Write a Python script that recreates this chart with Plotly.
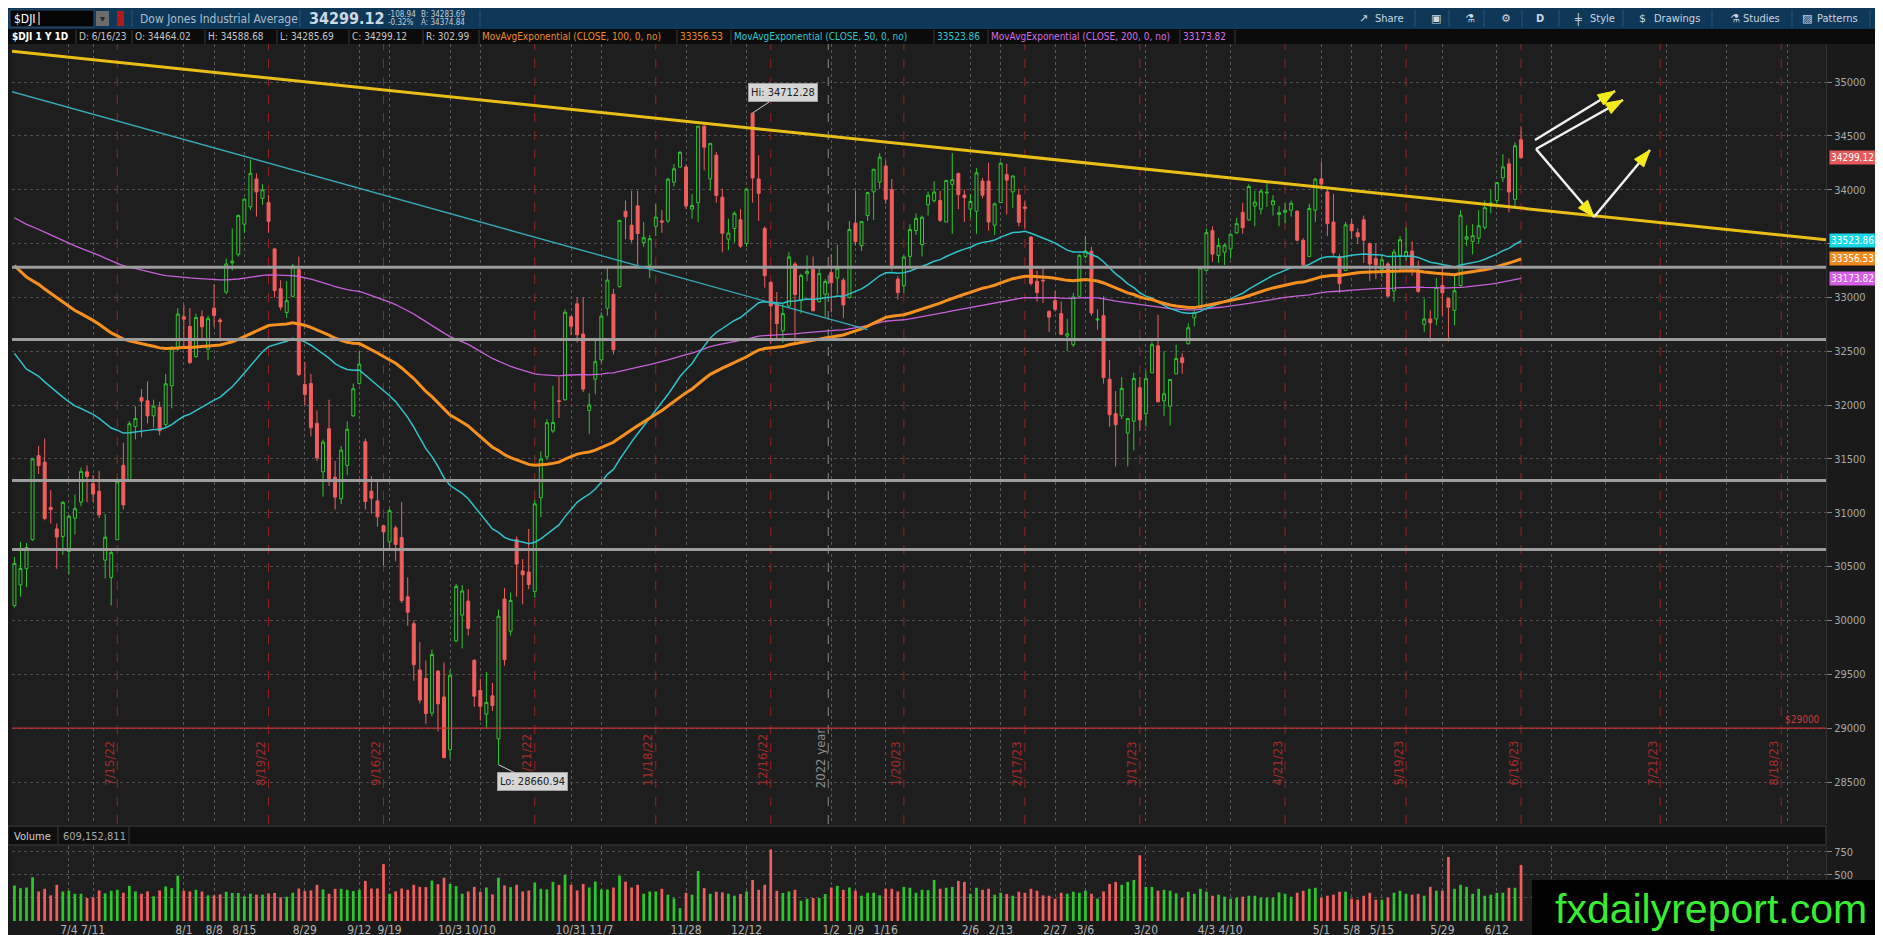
import math
import pandas as pd
import plotly.graph_objects as go

W, H = 1883, 935
NARROW = "Liberation Sans Narrow, DejaVu Sans Condensed, Roboto, sans-serif"

# ---------------- $DJI daily bars, 6/21/22 .. 6/16/23 ----------------
open_ = [
    30140, 30330, 30480, 30750, 31530, 31470, 31050, 30850,
    30780, 30640, 30950, 31100, 31380, 31270, 31200, 30560, 30400, 30750, 31440, 31310,
    31800, 32070, 32040, 31900, 31980, 31820, 32180, 32540,
    32820, 32730, 32450, 32820, 32520, 32900, 32790, 33050, 33320, 33400, 33680, 33840,
    34100, 33920, 33880, 33450, 33080, 32860, 33010, 33260, 32190, 32200, 31830,
    31380, 31780, 31330, 31130, 31440, 31900, 32200, 31660, 31200, 31110, 30880, 30730,
    30860, 30770, 30220, 29970, 29540, 29460, 29140, 29530, 29290,
    28800, 29810, 30050, 30180, 29630, 29350, 29130, 29300, 28900, 30200, 29900, 30750,
    30460, 30450, 30270, 31140, 31520, 31760, 32040, 32050, 32820,
    32940, 32660, 31950, 32240, 32420, 32900, 33030, 33100, 33800, 33670, 33850, 33510,
    33300, 33660, 33710, 33710, 34070, 34210, 34210, 33820, 33880,
    34590, 34100, 34320, 33930, 33540, 33640, 33720, 33500, 34710, 34100, 33640, 33140,
    32940, 32690, 32920, 33310, 32970, 33220, 33260, 32960, 33030,
    33230, 33180, 33160, 33000, 33690, 33480, 33760, 33980, 34070, 34220, 34000, 33170,
    33110, 33380, 33620, 33490, 33860, 33900, 33900, 33700,
    34050, 34150, 33950, 33820, 33800, 34080, 34080, 33670, 33880, 34140, 33980, 33950,
    33840, 33560, 33150, 33160, 32870, 32970, 32850,
    32640, 32560, 33010, 33380, 33430, 32790, 32830, 32240, 31920, 31900, 31740, 31850,
    32160, 31920, 32300, 32550, 32040, 31990, 32290, 32440, 32570, 32810, 32900,
    33250, 33620, 33390, 33420, 33450, 33600, 33790, 33720, 33850, 33820, 33970, 33860,
    33770, 33790, 33810, 33800, 33530, 33380, 33810,
    34100, 33980, 33700, 33380, 33250, 33680, 33600, 33720, 33500, 33360, 33260, 33310,
    33060, 33390, 33380, 33430, 33240, 32750, 32800, 32800, 33110, 32990,
    32880, 33110, 33540, 33520, 33550, 33650, 33850, 33900, 34110, 34240, 33910, 34464.02,
]
high = [
    30590, 30730, 30720, 31510, 31620, 31690, 31210, 30900,
    31110, 30980, 31170, 31420, 31440, 31350, 31390, 30990, 30650, 31320, 31650, 31850,
    31990, 32150, 32220, 32050, 32030, 32290, 32550, 32900,
    32930, 32900, 32850, 32880, 32830, 33120, 32810, 33360, 33640, 33770, 33920, 34280,
    34150, 34050, 33950, 33460, 33160, 33150, 33310, 33380, 32400, 32290, 31950,
    31680, 32050, 31480, 31620, 31850, 32200, 32500, 31690, 31340, 31300, 30890, 31040,
    30880, 31100, 30400, 30000, 29800, 29630, 29730, 29540, 29610,
    29540, 30340, 30330, 30290, 29640, 29460, 29520, 29420, 30100, 30300, 30260, 30780,
    30570, 30850, 31120, 31570, 31870, 32180, 32260, 32890, 32830,
    33000, 33000, 32110, 32610, 32860, 33270, 33080, 33720, 33900, 33990, 33990, 33700,
    33580, 33870, 33810, 34110, 34240, 34360, 34230, 33960, 34590,
    34600, 34430, 34350, 34010, 33730, 33800, 33820, 34020, 34712.28, 34320, 33660, 33150,
    33050, 32940, 33420, 33330, 33220, 33390, 33380, 33290, 33170,
    33400, 33490, 33180, 33710, 33990, 33710, 33980, 34190, 34340, 34270, 34100, 33200,
    33400, 33680, 33780, 33760, 33980, 34080, 33990, 34090,
    34340, 34160, 34000, 33960, 34200, 34110, 34250, 33880, 34260, 34240, 34130, 34010,
    33900, 33570, 33250, 33270, 32880, 33060, 32960,
    32800, 33040, 33400, 33570, 33470, 32890, 33010, 32420, 32130, 32260, 31870, 32300,
    32260, 32320, 32590, 32840, 32500, 32240, 32560, 32480, 32760, 32920, 33280,
    33640, 33660, 33550, 33500, 33590, 33740, 33880, 34050, 33990, 34000, 34080, 33950,
    33850, 33880, 33900, 33810, 33550, 33870, 34110,
    34260, 34000, 33960, 33400, 33700, 33730, 33640, 33760, 33510, 33500, 33390, 33330,
    33450, 33570, 33650, 33520, 33340, 32990, 32880, 33180, 33290, 33000,
    33200, 33810, 33670, 33680, 33810, 33900, 34000, 34070, 34330, 34290, 34440, 34588.68,
]
low = [
    30120, 30220, 30310, 30740, 31360, 30930, 30900, 30480,
    30610, 30430, 30800, 31060, 31100, 31100, 30950, 30390, 30140, 30750, 31030, 31300,
    31680, 31700, 31830, 31790, 31720, 31800, 31970, 32500,
    32550, 32380, 32440, 32600, 32420, 32730, 32590, 33030, 33250, 33380, 33600, 33810,
    33750, 33860, 33600, 33000, 32880, 32810, 33000, 32270, 32000, 31710, 31480,
    31150, 31250, 31030, 31080, 31350, 31890, 32190, 31030, 30990, 30870, 30510, 30650,
    30550, 30160, 29950, 29440, 29230, 29040, 29110, 28970, 28720,
    28720, 29800, 29740, 29860, 29200, 29070, 29000, 29160, 28660.94, 29580, 29860, 30220,
    30150, 30290, 30210, 30960, 31490, 31740, 31880, 32040, 32650,
    32580, 32120, 31730, 32100, 32390, 32830, 32470, 33090, 33540, 33510, 33300, 33470,
    33180, 33570, 33600, 33690, 34030, 34200, 33820, 33730, 33700,
    34180, 33990, 33880, 33420, 33440, 33510, 33460, 33470, 33880, 33710, 33090, 32570,
    32620, 32580, 32900, 32570, 32850, 33150, 32870, 32950, 32820,
    32860, 33030, 32810, 32990, 33480, 33430, 33710, 33720, 34010, 33870, 33250, 32980,
    33040, 33270, 33580, 33380, 33760, 33880, 33700, 33700,
    33590, 33820, 33700, 33740, 33590, 33920, 33620, 33580, 33880, 33770, 33830, 33660,
    33640, 33110, 32960, 32950, 32680, 32870, 32650,
    32500, 32540, 33010, 33360, 32830, 32700, 32200, 31800, 31430, 31870, 31430, 31580,
    31760, 31800, 32300, 32030, 31900, 31810, 32290, 32290, 32560, 32730, 32900,
    33240, 33330, 33320, 33300, 33360, 33590, 33590, 33710, 33660, 33770, 33840, 33760,
    33660, 33690, 33750, 33520, 33290, 33380, 33700,
    34020, 33570, 33390, 33040, 33250, 33540, 33500, 33320, 33150, 33170, 33190, 33000,
    32960, 33250, 33340, 33200, 33040, 32680, 32590, 32740, 32830, 32590,
    32740, 33100, 33480, 33400, 33500, 33630, 33780, 33870, 34070, 33790, 33830, 34285.69,
]
close = [
    30530, 30483, 30677, 31501, 31438, 30947, 31029, 30775,
    31097, 30968, 31038, 31385, 31338, 31174, 30981, 30773, 30630, 31288, 31073, 31827,
    31875, 32037, 31899, 31990, 31762, 32198, 32530, 32845,
    32798, 32396, 32813, 32727, 32803, 32833, 32774, 33310, 33337, 33761, 33912, 34152,
    33980, 33999, 33707, 33064, 32910, 32969, 33292, 32283, 32099, 31791, 31510,
    31656, 31318, 31145, 31581, 31775, 32152, 32381, 31105, 31135, 30962, 30822, 31020,
    30706, 30184, 30077, 29590, 29261, 29135, 29684, 29226, 28726,
    29491, 30316, 30274, 29927, 29297, 29203, 29239, 29211, 30039, 29635, 30186, 30524,
    30424, 30334, 31083, 31500, 31837, 31839, 32033, 32862, 32733,
    32653, 32148, 32001, 32403, 32827, 33161, 32514, 33715, 33748, 33537, 33593, 33554,
    33546, 33746, 33700, 34098, 34194, 34347, 33849, 33853, 34590,
    34395, 34430, 33947, 33596, 33598, 33781, 33476, 34005, 34109, 33966, 33202, 32920,
    32758, 32850, 33376, 33027, 33204, 33242, 32876, 33221, 33147,
    33136, 33270, 32930, 33631, 33518, 33704, 33973, 34190, 34303, 33911, 33297, 33045,
    33375, 33630, 33734, 33744, 33949, 33978, 33717, 34086,
    34093, 33954, 33926, 33891, 34157, 33949, 33700, 33869, 34246, 34089, 34128, 33697,
    33827, 33130, 33045, 33154, 32817, 32889, 32657,
    32662, 33004, 33391, 33431, 32856, 32798, 32255, 31910, 31819, 32155, 31875, 32247,
    31862, 32245, 32561, 32030, 32105, 32238, 32432, 32394, 32718, 32859, 33274,
    33601, 33402, 33483, 33485, 33587, 33685, 33647, 34030, 33886, 33987, 33977, 33897,
    33787, 33809, 33875, 33531, 33302, 33826, 34098,
    34052, 33685, 33414, 33128, 33674, 33619, 33562, 33531, 33310, 33301, 33349, 33012,
    33421, 33536, 33427, 33287, 33056, 32800, 32765, 33093, 33043, 32908,
    33062, 33763, 33563, 33573, 33665, 33834, 33877, 34066, 34212, 33979, 34408, 34299.12,
]
# volume, millions
volume = [
    386, 357, 364, 475, 321, 350, 279, 393, 321, 329, 296, 296, 250, 257, 332, 300, 329, 339, 307, 382,
    321, 296, 321, 268, 332, 375, 357, 493, 329, 321, 339, 321, 279, 279, 289, 318, 304, 304, 268, 296,
    286, 286, 300, 304, 257, 264, 307, 353, 325, 332, 393, 343, 296, 350, 350, 339, 325, 339, 436, 353,
    353, 618, 296, 321, 353, 339, 393, 371, 368, 439, 400, 471, 403, 379, 296, 321, 371, 318, 364, 289,
    471, 386, 368, 393, 321, 332, 418, 350, 343, 425, 393, 500, 393, 332, 403, 364, 428, 343, 343, 364,
    493, 428, 364, 393, 296, 321, 321, 350, 286, 246, 139, 307, 286, 543, 357, 296, 318, 311, 296, 275,
    293, 321, 446, 339, 393, 778, 329, 304, 321, 339, 221, 243, 250, 250, 293, 364, 382, 339, 364, 329,
    275, 307, 307, 279, 350, 350, 321, 371, 361, 307, 339, 336, 446, 350, 361, 371, 436, 425, 296, 361,
    339, 350, 286, 307, 293, 275, 318, 307, 350, 329, 279, 275, 243, 307, 296, 318, 307, 329, 296, 243,
    321, 403, 425, 393, 425, 446, 714, 371, 371, 329, 339, 329, 300, 253, 318, 296, 350, 318, 275, 286,
    264, 243, 253, 264, 275, 275, 253, 253, 253, 311, 296, 264, 307, 329, 350, 361, 253, 275, 286, 318,
    318, 243, 232, 275, 307, 232, 232, 253, 307, 329, 296, 286, 296, 275, 371, 329, 329, 696, 350, 393,
    371, 296, 350, 275, 286, 307, 307, 361, 361, 609,
]
assert len(open_) == len(high) == len(low) == len(close) == len(volume) == 250

# EMA value at the first visible bar
ema_start = {50: 32480, 100: 33295, 200: 33740}

holidays = ["2022-07-04", "2022-09-05", "2022-11-24", "2022-12-26", "2023-01-02",
            "2023-01-16", "2023-02-20", "2023-04-07", "2023-05-29", "2023-06-19", "2023-07-04"]
week_labels = ["7/4", "7/11", "8/1", "8/8", "8/15", "8/29", "9/12", "9/19", "10/3", "10/10",
               "10/31", "11/7", "11/28", "12/12", "1/2", "1/9", "1/16", "2/6", "2/13", "2/27",
               "3/6", "3/20", "4/3", "4/10", "5/1", "5/8", "5/15", "5/29", "6/12"]
future_weeks = ["6/26", "7/10", "7/24", "8/7", "8/21"]
expiries = ["7/15/22", "8/19/22", "9/16/22", "10/21/22", "11/18/22", "12/16/22", "1/20/23",
            "2/17/23", "3/17/23", "4/21/23", "5/19/23", "6/16/23", "7/21/23", "8/18/23"]
levels = [33280, 32610, 31300, 30660]
yellow_trend = [(-0.4, 35285), (299.4, 33535)]
cyan_trend = [(-0.4, 34910), (141, 32700)]

# ---------------- helpers ----------------
days = pd.bdate_range("2022-06-21", "2023-09-15", freq="C", holidays=holidays)
assert days[249] == pd.Timestamp("2023-06-16")
xs = list(range(len(close)))


def day_pos(md, yy):
    m, d = md.split("/")[:2]
    return int(days.searchsorted(pd.Timestamp(year=yy, month=int(m), day=int(d))))


def X(px):
    return px / W


def Y(py):
    return 1 - py / H


label_pos = [day_pos(w, 2022 if int(w.split("/")[0]) >= 7 else 2023) for w in week_labels]
future_pos = [day_pos(w, 2023) for w in future_weeks]
exp_pos = [day_pos(e, 2000 + int(e.split("/")[2])) for e in expiries]


def ema(vals, n, start):
    a = 2.0 / (n + 1)
    out = [start]
    for v in vals[1:]:
        out.append(out[-1] + a * (v - out[-1]))
    return out


GREEN, RED = "#2fc52f", "#f25e5e"
vol_colors = [GREEN if c >= o else RED for o, c in zip(open_, close)]

fig = go.Figure()
fig.add_trace(go.Candlestick(
    x=xs, open=open_, high=high, low=low, close=close,
    increasing=dict(line=dict(color=GREEN, width=1), fillcolor="#1e1e1e"),
    decreasing=dict(line=dict(color=RED, width=1), fillcolor=RED),
    whiskerwidth=0, hoverinfo="skip", xaxis="x", yaxis="y"))
for n, col, wd in [(200, "#c95fdc", 1.3), (50, "#2ec3cc", 1.5), (100, "#f7901e", 3)]:
    fig.add_trace(go.Scatter(x=xs, y=ema(close, n, ema_start[n]), mode="lines",
                             line=dict(color=col, width=wd), hoverinfo="skip",
                             xaxis="x", yaxis="y"))
fig.add_trace(go.Bar(x=xs, y=volume, marker=dict(color=vol_colors, line=dict(width=0)),
                     width=0.45, hoverinfo="skip", xaxis="x2", yaxis="y2"))

shapes = []
ann = []


def rect(x0, y0, x1, y1, fill, line=None):
    shapes.append(dict(type="rect", xref="paper", yref="paper", x0=X(x0), x1=X(x1),
                       y0=Y(y1), y1=Y(y0), fillcolor=fill,
                       line=dict(width=1 if line else 0, color=line or fill)))


def seg(x0, y0, x1, y1, color, width=1):
    shapes.append(dict(type="line", xref="paper", yref="paper", x0=X(x0), x1=X(x1),
                       y0=Y(y0), y1=Y(y1), line=dict(color=color, width=width)))


def txt(px, py, s, color="#c8c8c8", size=11, anchor="left", family=NARROW, **kw):
    ann.append(dict(x=X(px), y=Y(py), xref="paper", yref="paper", text=s, showarrow=False,
                    xanchor=anchor, yanchor="middle", borderpad=0,
                    font=dict(color=color, size=size, family=family), **kw))


# horizontal support lines, 29000 line, trend lines
for lv in levels:
    shapes.append(dict(type="line", xref="paper", yref="y", x0=X(4), x1=X(1818), y0=lv, y1=lv,
                       line=dict(color="#9d9d9d", width=3)))
shapes.append(dict(type="line", xref="paper", yref="y", x0=X(4), x1=X(1818), y0=29000, y1=29000,
                   line=dict(color="#c23535", width=1.3)))
for (p0, p1), col, wd in [(yellow_trend, "#e8bf16", 3), (cyan_trend, "#34a9b8", 1.4)]:
    shapes.append(dict(type="line", xref="x", yref="y", x0=p0[0], y0=p0[1], x1=p1[0], y1=p1[1],
                       line=dict(color=col, width=wd)))

# expiration lines + year line
for p, lab in zip(exp_pos, expiries):
    shapes.append(dict(type="line", xref="x", yref="paper", x0=p, x1=p, y0=Y(816), y1=Y(36),
                       line=dict(color="#9a2222", width=1, dash="dash"), layer="below"))
    ann.append(dict(x=p, y=Y(780), xref="x", yref="paper", text=lab, showarrow=False,
                    textangle=-90, xshift=-8, font=dict(color="#a52a2a", size=13, family=NARROW)))
shapes.append(dict(type="line", xref="x", yref="paper", x0=134.5, x1=134.5, y0=Y(816), y1=Y(36),
                   line=dict(color="#8a8a8a", width=1, dash="dash"), layer="below"))
ann.append(dict(x=134.5, y=Y(782), xref="x", yref="paper", text="2022 year", showarrow=False,
                textangle=-90, xshift=-8, font=dict(color="#8c8c8c", size=13, family=NARROW)))

# Hi / Lo labels
for xi, yv, lab, ax, ay in [(122, 34712.28, "Hi: 34712.28", 30, -20),
                            (80, 28660.94, "Lo: 28660.94", 34, 17)]:
    ann.append(dict(x=xi, y=yv, xref="x", yref="y", text=lab, showarrow=True, arrowhead=0,
                    arrowwidth=1, arrowcolor="#cfcfcf", ax=ax, ay=ay, bgcolor="#d6d6d6",
                    bordercolor="#a0a0a0", borderpad=2,
                    font=dict(color="#202020", size=11, family=NARROW)))
ann.append(dict(x=X(1814), y=29000, xref="paper", yref="y", text="$29000", showarrow=False,
                xanchor="right", yanchor="bottom", yshift=1,
                font=dict(color="#c83c3c", size=10, family=NARROW)))

# right-axis value tags
for val, txt_val, bg in [(34299.12, "34299.12", "#e85858"), (33523.86, "33523.86", "#16d8e6"),
                         (33356.53, "33356.53", "#f08a1c"), (33173.82, "33173.82", "#d45ee6")]:
    ann.append(dict(x=X(1821), y=val, xref="paper", yref="y", text=txt_val, showarrow=False,
                    xanchor="left", yanchor="middle", bgcolor=bg, borderpad=1,
                    font=dict(color="#ffffff", size=10, family=NARROW)))

# drawn arrows
arrows = [((1527, 132), (1607, 83)), ((1528, 141), (1615, 92)),
          ((1528, 141), (1586, 209)), ((1586, 209), (1642, 142))]
for (x0, y0), (x1, y1) in arrows:
    seg(x0, y0, x1, y1, "#f2f2f2", 2.5)
    dx, dy = x1 - x0, y1 - y0
    ln = math.hypot(dx, dy)
    ux, uy = dx / ln, dy / ln
    bx, by = x1 - 17 * ux, y1 - 17 * uy
    pts = [(x1, y1), (bx - 6 * uy, by + 6 * ux), (bx + 6 * uy, by - 6 * ux)]
    path = "M " + " L ".join(f"{X(a):.5f},{Y(b):.5f}" for a, b in pts) + " Z"
    shapes.append(dict(type="path", xref="paper", yref="paper", path=path,
                       fillcolor="#f5ea1a", line=dict(color="#f5ea1a", width=1)))

# ---------------- top toolbar ----------------
rect(0, 0, W, 21, "#0f3858")
rect(2, 2, 86, 19, "#050505", "#2c4c6c")
txt(5, 11, "$DJI", "#ffffff", 12)
seg(31, 4, 31, 17, "#ffffff", 1)
rect(88, 3, 101, 18, "#6c6c6c")
txt(94.5, 11, "▾", "#2a2a2a", 10, anchor="center", family="DejaVu Sans")
rect(109, 3, 116, 18, "#b21a1a")
for sx in [124, 292, 371, 472]:
    seg(sx, 2, sx, 19, "#2b5478", 1)
txt(131, 11, "Dow Jones Industrial Average", "#a9bccf", 12)
txt(300, 11, "<b>34299.12</b>", "#cdd8e3", 16)
txt(379, 6, "-108.94", "#c2ccd6", 8)
txt(379, 15, "-0.32%", "#c2ccd6", 8)
txt(412, 6, "B: 34283.69", "#c2ccd6", 8)
txt(412, 15, "A: 34374.84", "#c2ccd6", 8)
tool = [("↗", 1350), ("Share", 1366), ("▣", 1422), ("⚗", 1456), ("⚙", 1492), ("<b>D</b>", 1527),
        ("╪", 1565), ("Style", 1581), ("$", 1630), ("Drawings", 1645), ("⚗", 1721),
        ("Studies", 1734), ("▨", 1793), ("Patterns", 1808), ("⋮", 1868)]
for s, px in tool:
    fam = NARROW if s[0].isalpha() or s.startswith("<") else "DejaVu Sans"
    txt(px, 11, s, "#c9d5e1", 11, family=fam)
for sx in [1407, 1441, 1476, 1514, 1551, 1615, 1704, 1784, 1862]:
    seg(sx, 2, sx, 19, "#2b5478", 1)

# ---------------- study header row ----------------
rect(0, 21, W, 36, "#0b0b0b")
row = [("<b>$DJI 1 Y 1D</b>", 3, "#ffffff"), ("D: 6/16/23", 70, "#c4c4c4"),
       ("O: 34464.02", 126, "#c4c4c4"), ("H: 34588.68", 199, "#c4c4c4"),
       ("L: 34285.69", 271, "#c4c4c4"), ("C: 34299.12", 343, "#c4c4c4"),
       ("R: 302.99", 417, "#c4c4c4"),
       ("MovAvgExponential (CLOSE, 100, 0, no)", 473, "#ec8a2a"), ("33356.53", 671, "#ec8a2a"),
       ("MovAvgExponential (CLOSE, 50, 0, no)", 725, "#2cc6d2"), ("33523.86", 928, "#2cc6d2"),
       ("MovAvgExponential (CLOSE, 200, 0, no)", 982, "#d36ee2"), ("33173.82", 1174, "#d36ee2")]
for s, px, col in row:
    txt(px, 29, s, col, 10)
for sx in [68, 124, 197, 269, 341, 415, 471, 669, 723, 926, 980, 1172, 1227]:
    seg(sx, 22, sx, 36, "#3c3c3c", 1)

# ---------------- volume header ----------------
rect(0, 818, 1818, 837, "#0e0e0e", "#3e3e3e")
txt(5, 828, "Volume", "#d0d0d0", 11)
seg(50, 819, 50, 836, "#3e3e3e", 1)
txt(54, 828, "609,152,811", "#a8a8a8", 11)
seg(121, 819, 121, 836, "#3e3e3e", 1)

# ---------------- watermark ----------------
rect(1524, 872, W, H, "#000000")
txt(1703, 901, "fxdailyreport.com", "#38ee30", 41, anchor="center",
    family="Liberation Sans, Arial, sans-serif")

grid_ticks = label_pos + future_pos
price_ticks = list(range(28500, 35001, 500))
axis_font = dict(color="#a8a8a8", size=11, family=NARROW)
fig.update_layout(
    width=W, height=H, margin=dict(l=0, r=0, t=0, b=0),
    paper_bgcolor="#1a1a1a", plot_bgcolor="#1e1e1e",
    showlegend=False, hovermode=False,
    xaxis=dict(domain=[X(4), X(1818)], range=[-0.4, 299.4], anchor="y",
               tickvals=grid_ticks, showticklabels=False, showgrid=True,
               gridcolor="#5a5a5a", griddash="dot", gridwidth=1, zeroline=False,
               rangeslider=dict(visible=False), fixedrange=True),
    xaxis2=dict(domain=[X(4), X(1818)], range=[-0.4, 299.4], anchor="y2", matches="x",
                tickvals=grid_ticks, ticktext=week_labels + [""] * len(future_pos),
                showgrid=True, gridcolor="#5a5a5a", griddash="dot", zeroline=False,
                ticks="", tickfont=dict(color="#b4b4b4", size=12, family=NARROW)),
    yaxis=dict(domain=[Y(816), Y(36)], range=[28110, 35353], side="right", anchor="x",
               tickvals=price_ticks,
               ticktext=["" if v == 33500 else str(v) for v in price_ticks],
               ticks="outside", ticklen=5, tickcolor="#808080", tickfont=axis_font,
               showgrid=True, gridcolor="#4e4e4e", griddash="dot", zeroline=False,
               showline=True, linecolor="#333333"),
    yaxis2=dict(domain=[Y(913), Y(838)], range=[0, 815], side="right", anchor="x2",
                tickvals=[250, 500, 750], ticktext=["", "500", "750"], ticks="outside",
                ticklen=5, tickcolor="#808080", tickfont=axis_font, showgrid=True,
                gridcolor="#4e4e4e", griddash="dot", zeroline=False, showline=True,
                linecolor="#333333"),
    shapes=shapes, annotations=ann,
)

fig.write_html("out.html")
